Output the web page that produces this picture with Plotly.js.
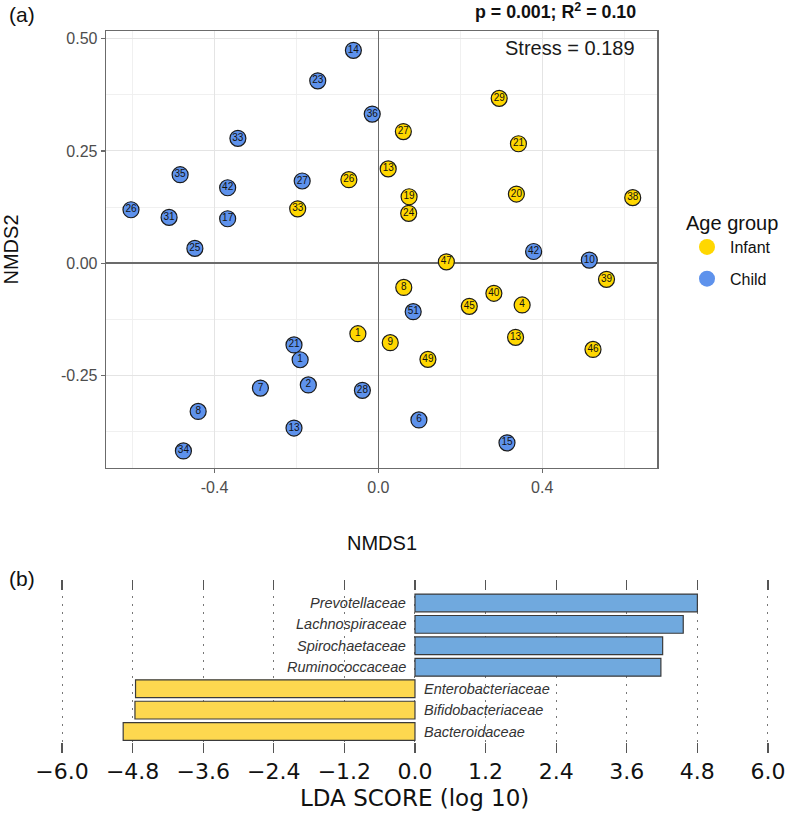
<!DOCTYPE html>
<html><head><meta charset="utf-8">
<script src="https://cdn.plot.ly/plotly-3.0.1.min.js"></script>
<style>html,body{margin:0;padding:0;background:#fff}#chart{width:786px;height:819px}</style>
</head><body><div id="chart"></div>
<script>
// ---------- Panel (a): NMDS ----------
const infantLabels = ['29','27','21','13','19','24','20','38','26','33','47','39','8','40','4','45','13','9','46','49','1'];
const infantNMDS1 = [0.295,0.061,0.342,0.024,0.075,0.074,0.337,0.621,-0.072,-0.197,0.166,0.557,0.062,0.282,0.351,0.222,0.335,0.029,0.524,0.121,-0.050];
const infantNMDS2 = [0.367,0.293,0.266,0.210,0.148,0.111,0.154,0.146,0.186,0.121,0.003,-0.036,-0.054,-0.067,-0.093,-0.096,-0.165,-0.177,-0.192,-0.214,-0.157];

const childLabels = ['14','23','36','33','35','42','27','26','31','17','25','42','10','51','6','15','21','1','2','7','28','8','13','34'];
const childNMDS1 = [-0.061,-0.148,-0.015,-0.343,-0.484,-0.368,-0.186,-0.604,-0.511,-0.368,-0.448,0.379,0.515,0.085,0.099,0.314,-0.206,-0.191,-0.171,-0.288,-0.039,-0.440,-0.206,-0.476];
const childNMDS2 = [0.474,0.406,0.332,0.278,0.197,0.168,0.183,0.119,0.102,0.099,0.033,0.026,0.007,-0.108,-0.349,-0.400,-0.182,-0.215,-0.271,-0.278,-0.283,-0.330,-0.367,-0.418];

const nmdsXTicks = [-0.4, 0.0, 0.4];
const nmdsXTickText = ['-0.4', '0.0', '0.4'];
const nmdsYTicks = [-0.25, 0.0, 0.25, 0.50];
const nmdsYTickText = ['-0.25', '0.00', '0.25', '0.50'];

// ---------- Panel (b): LEfSe ----------
const ldaTaxa = ['Prevotellaceae','Lachnospiraceae','Spirochaetaceae','Ruminococcaceae','Enterobacteriaceae','Bifidobacteriaceae','Bacteroidaceae'];
const ldaScores = [4.80, 4.56, 4.21, 4.18, -4.75, -4.76, -4.96];

const W = 786, H = 819;
const px = v => v / W;
const py = v => 1 - v / H;

const YEL = '#FFD700', BLU = '#5E92EC';
const font = 'Liberation Sans, Arial, sans-serif';

function ptTrace(x, y, t, col, name) {
  return {
    type: 'scatter', mode: 'markers+text', x: x, y: y, text: t,
    textposition: 'middle center',
    textfont: {family: font, size: 10, color: '#111'},
    marker: {size: 16, color: col, line: {color: '#1a1a1a', width: 1.2}},
    xaxis: 'x', yaxis: 'y', showlegend: false, hoverinfo: 'skip', name: name, cliponaxis: false
  };
}
function legTrace(col, name, grp) {
  return {
    type: 'scatter', mode: 'markers', x: [null], y: [null], name: name,
    legendgroup: grp, marker: {size: 19, color: col, line: {width: 0}},
    xaxis: 'x', yaxis: 'y', showlegend: true
  };
}

const barColors = ldaScores.map(v => v > 0 ? '#70A9DE' : '#FDD84F');
const catOrder = ldaTaxa.slice().reverse();

const data = [
  ptTrace(childNMDS1, childNMDS2, childLabels, BLU, 'Child'),
  ptTrace(infantNMDS1, infantNMDS2, infantLabels, YEL, 'Infant'),
  legTrace(YEL, 'Infant', 'g1'),
  legTrace(BLU, 'Child', 'g2'),
  {
    type: 'bar', orientation: 'h', x: ldaScores, y: ldaTaxa, width: 0.83,
    marker: {color: barColors, line: {color: '#3a3a3a', width: 1.2}},
    xaxis: 'x2', yaxis: 'y2', showlegend: false, hoverinfo: 'skip'
  }
];

const annotations = [
  {text: '(a)', x: px(22), y: py(14), xref: 'paper', yref: 'paper', showarrow: false,
   xanchor: 'center', yanchor: 'middle', font: {family: font, size: 21, color: '#111'}},
  {text: '<b>p = 0.001; R<sup>2</sup> = 0.10</b>', x: px(638), y: py(11), xref: 'paper', yref: 'paper',
   showarrow: false, xanchor: 'right', yanchor: 'middle', font: {family: font, size: 17.8, color: '#111'}},
  {text: 'Stress = 0.189', x: px(637), y: py(48), xref: 'paper', yref: 'paper', showarrow: false,
   xanchor: 'right', yanchor: 'middle', font: {family: font, size: 20, color: '#1a1a1a'}},
  {text: 'NMDS1', x: px(381.5), y: py(543), xref: 'paper', yref: 'paper', showarrow: false,
   xanchor: 'center', yanchor: 'middle', font: {family: font, size: 20, color: '#111'}},
  {text: 'NMDS2', x: px(10), y: py(249.5), xref: 'paper', yref: 'paper', showarrow: false, textangle: -90,
   xanchor: 'center', yanchor: 'middle', font: {family: font, size: 20, color: '#111'}},
  {text: '(b)', x: px(22), y: py(578), xref: 'paper', yref: 'paper', showarrow: false,
   xanchor: 'center', yanchor: 'middle', font: {family: font, size: 21, color: '#111'}},
  {text: 'LDA SCORE (log 10)', x: px(414.5), y: py(798), xref: 'paper', yref: 'paper', showarrow: false,
   xanchor: 'center', yanchor: 'middle', font: {family: 'DejaVu Sans, sans-serif', size: 23, color: '#111'}}
];
ldaTaxa.forEach((t, i) => {
  const pos = ldaScores[i] > 0;
  annotations.push({
    text: '<i>' + t + '</i>', x: 0, y: t, xref: 'x2', yref: 'y2', showarrow: false,
    xanchor: pos ? 'right' : 'left', yanchor: 'middle', xshift: pos ? -7 : 7,
    font: {family: font, size: 14.5, color: '#333'}
  });
});

const layout = {
  width: W, height: H, margin: {l: 0, r: 0, t: 0, b: 0},
  paper_bgcolor: '#fff', plot_bgcolor: '#fff',
  showlegend: true,
  legend: {
    x: px(684), y: py(204), xanchor: 'left', yanchor: 'top',
    title: {text: 'Age group', font: {family: font, size: 20, color: '#111'}},
    font: {family: font, size: 16, color: '#111'}, itemwidth: 36,
    traceorder: 'grouped', tracegroupgap: 8, bgcolor: 'rgba(0,0,0,0)', itemsizing: 'trace'
  },
  xaxis: {
    domain: [px(106), px(657.3)], range: [-0.665, 0.681], anchor: 'y',
    tickmode: 'array', tickvals: nmdsXTicks, ticktext: nmdsXTickText,
    showgrid: true, gridcolor: '#E4E4E4', gridwidth: 1.1,
    minor: {tickmode: 'array', tickvals: [-0.6, -0.2, 0.2, 0.6], showgrid: true, gridcolor: '#EEEEEE', gridwidth: 0.9, ticks: ''},
    zeroline: true, zerolinecolor: '#6b6b6b', zerolinewidth: 1.5,
    showline: true, mirror: true, linecolor: '#6b6b6b', linewidth: 1.3,
    ticks: 'outside', ticklen: 4, tickwidth: 1.3, tickcolor: '#6b6b6b',
    tickfont: {family: font, size: 16, color: '#4d4d4d'}, fixedrange: true
  },
  yaxis: {
    domain: [py(468), py(31)], range: [-0.456, 0.517], anchor: 'x',
    tickmode: 'array', tickvals: nmdsYTicks, ticktext: nmdsYTickText,
    showgrid: true, gridcolor: '#E4E4E4', gridwidth: 1.1,
    minor: {tickmode: 'array', tickvals: [-0.375, -0.125, 0.125, 0.375], showgrid: true, gridcolor: '#EEEEEE', gridwidth: 0.9, ticks: ''},
    zeroline: true, zerolinecolor: '#6b6b6b', zerolinewidth: 1.5,
    showline: true, mirror: true, linecolor: '#6b6b6b', linewidth: 1.3,
    ticks: 'outside', ticklen: 4, tickwidth: 1.3, tickcolor: '#6b6b6b',
    tickfont: {family: font, size: 16, color: '#4d4d4d'}, fixedrange: true
  },
  xaxis2: {
    domain: [px(62 - 0.3 * 58.83), px(62 + 12.3 * 58.83)], range: [-6.3, 6.3], anchor: 'y2',
    tickmode: 'linear', tick0: 0, dtick: 1.2, tickformat: '.1f',
    showgrid: true, gridcolor: '#777', gridwidth: 1, griddash: '2px,6px',
    zeroline: false, showline: false,
    ticks: 'inside', ticklen: 10, tickwidth: 1.2, tickcolor: '#555', mirror: 'ticks',
    tickfont: {family: 'DejaVu Sans, sans-serif', size: 22, color: '#111'}, ticklabelstandoff: 3,
    fixedrange: true
  },
  yaxis2: {
    domain: [py(753), py(580)], range: [-1.0, 7.07], anchor: 'x2',
    type: 'category', categoryorder: 'array', categoryarray: catOrder,
    showticklabels: false, showgrid: false, zeroline: false, showline: false, ticks: '',
    fixedrange: true
  },
  annotations: annotations
};

Plotly.newPlot('chart', data, layout, {displayModeBar: false, staticPlot: true});
</script>
</body></html>
